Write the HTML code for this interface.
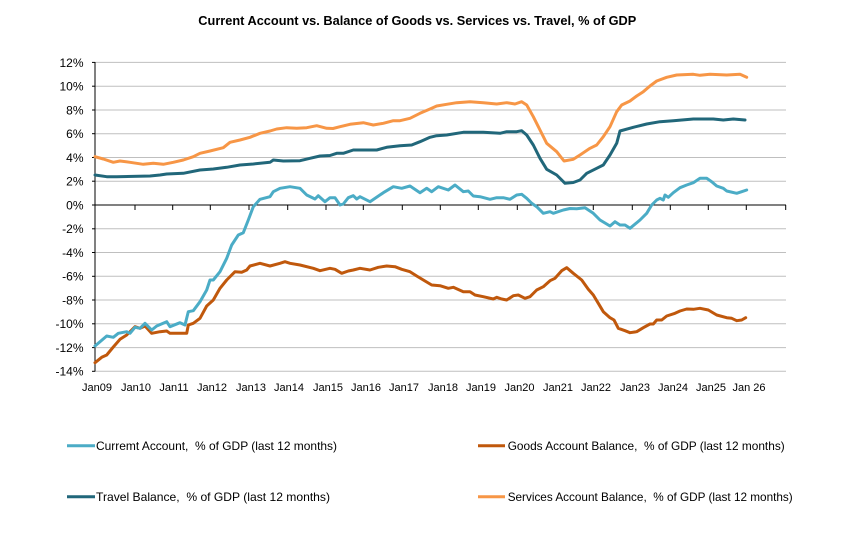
<!DOCTYPE html>
<html>
<head>
<meta charset="utf-8">
<style>
html,body{margin:0;padding:0;background:#fff;}
svg{display:block;}
text{font-family:"Liberation Sans",Arial,sans-serif;fill:#000;}
</style>
</head>
<body>
<svg width="846" height="544" viewBox="0 0 846 544" xmlns="http://www.w3.org/2000/svg">
<rect x="0" y="0" width="846" height="544" fill="#fff"/>
<text x="198.3" y="25" font-size="13" font-weight="bold" textLength="438" lengthAdjust="spacingAndGlyphs">Current Account vs. Balance of Goods vs. Services vs. Travel, % of GDP</text>

<!-- gridlines -->
<g stroke="#BFBFBF" stroke-width="1">
<line x1="95" y1="62.4" x2="786" y2="62.4"/>
<line x1="95" y1="86.2" x2="786" y2="86.2"/>
<line x1="95" y1="110" x2="786" y2="110"/>
<line x1="95" y1="133.7" x2="786" y2="133.7"/>
<line x1="95" y1="157.5" x2="786" y2="157.5"/>
<line x1="95" y1="181.2" x2="786" y2="181.2"/>
<line x1="95" y1="228.8" x2="786" y2="228.8"/>
<line x1="95" y1="252.5" x2="786" y2="252.5"/>
<line x1="95" y1="276.3" x2="786" y2="276.3"/>
<line x1="95" y1="300" x2="786" y2="300"/>
<line x1="95" y1="323.8" x2="786" y2="323.8"/>
<line x1="95" y1="347.6" x2="786" y2="347.6"/>
<line x1="95" y1="371.3" x2="786" y2="371.3"/>
</g>

<!-- axes -->
<g stroke="#000" stroke-width="1">
<line x1="95" y1="62" x2="95" y2="371.5"/>
<line x1="95" y1="205" x2="786" y2="205"/>
<line x1="92" y1="62.4" x2="95" y2="62.4"/>
<line x1="92" y1="86.2" x2="95" y2="86.2"/>
<line x1="92" y1="110" x2="95" y2="110"/>
<line x1="92" y1="133.7" x2="95" y2="133.7"/>
<line x1="92" y1="157.5" x2="95" y2="157.5"/>
<line x1="92" y1="181.2" x2="95" y2="181.2"/>
<line x1="92" y1="205" x2="95" y2="205"/>
<line x1="92" y1="228.8" x2="95" y2="228.8"/>
<line x1="92" y1="252.5" x2="95" y2="252.5"/>
<line x1="92" y1="276.3" x2="95" y2="276.3"/>
<line x1="92" y1="300" x2="95" y2="300"/>
<line x1="92" y1="323.8" x2="95" y2="323.8"/>
<line x1="92" y1="347.6" x2="95" y2="347.6"/>
<line x1="92" y1="371.3" x2="95" y2="371.3"/>
<line x1="135" y1="205" x2="135" y2="210"/>
<line x1="172.7" y1="205" x2="172.7" y2="210"/>
<line x1="210.3" y1="205" x2="210.3" y2="210"/>
<line x1="249" y1="205" x2="249" y2="210"/>
<line x1="287.7" y1="205" x2="287.7" y2="210"/>
<line x1="326" y1="205" x2="326" y2="210"/>
<line x1="363.3" y1="205" x2="363.3" y2="210"/>
<line x1="402.3" y1="205" x2="402.3" y2="210"/>
<line x1="440.3" y1="205" x2="440.3" y2="210"/>
<line x1="478.3" y1="205" x2="478.3" y2="210"/>
<line x1="517.3" y1="205" x2="517.3" y2="210"/>
<line x1="555.7" y1="205" x2="555.7" y2="210"/>
<line x1="593.3" y1="205" x2="593.3" y2="210"/>
<line x1="632.3" y1="205" x2="632.3" y2="210"/>
<line x1="670.3" y1="205" x2="670.3" y2="210"/>
<line x1="708.3" y1="205" x2="708.3" y2="210"/>
<line x1="746.3" y1="205" x2="746.3" y2="210"/>
<line x1="785.7" y1="205" x2="785.7" y2="210"/>
</g>

<!-- y labels -->
<g font-size="12" text-anchor="end">
<text x="83.5" y="66.8">12%</text>
<text x="83.5" y="90.6">10%</text>
<text x="83.5" y="114.4">8%</text>
<text x="83.5" y="138.1">6%</text>
<text x="83.5" y="161.9">4%</text>
<text x="83.5" y="185.6">2%</text>
<text x="83.5" y="209.4">0%</text>
<text x="83.5" y="233.2">-2%</text>
<text x="83.5" y="256.9">-4%</text>
<text x="83.5" y="280.7">-6%</text>
<text x="83.5" y="304.4">-8%</text>
<text x="83.5" y="328.2">-10%</text>
<text x="83.5" y="352">-12%</text>
<text x="83.5" y="375.7">-14%</text>
</g>

<!-- x labels -->
<g font-size="11" text-anchor="middle">
<text x="97" y="391">Jan09</text>
<text x="136" y="391">Jan10</text>
<text x="174" y="391">Jan11</text>
<text x="212" y="391">Jan12</text>
<text x="251" y="391">Jan13</text>
<text x="289" y="391">Jan14</text>
<text x="328" y="391">Jan15</text>
<text x="366" y="391">Jan16</text>
<text x="404" y="391">Jan17</text>
<text x="443" y="391">Jan18</text>
<text x="481" y="391">Jan19</text>
<text x="519.5" y="391">Jan20</text>
<text x="558" y="391">Jan21</text>
<text x="596" y="391">Jan22</text>
<text x="635" y="391">Jan23</text>
<text x="673" y="391">Jan24</text>
<text x="711" y="391">Jan25</text>
<text x="749" y="391">Jan 26</text>
</g>

<!-- series -->
<g fill="none" stroke-width="3" stroke-linejoin="round" stroke-linecap="round">
<!-- Services (orange) -->
<polyline stroke="#F79646" points="95,156.7 103.3,159 113.3,162.3 120,161 130,162.3 143.3,164.3 153.3,163.3 163.3,164.3 173.3,162.3 183.3,160 193.3,156.7 200,153.3 210,151 223.3,147.7 230,142.3 240,140 250,137.3 260,133.3 270,131 276.7,129 286.7,127.7 296.7,128.3 306.7,127.7 316.7,125.7 326.7,128.3 333,128.5 340,126.7 350,124.3 363.3,122.7 373.3,125 383.3,123.3 393.3,120.7 400,120.7 410,118.3 420,113.3 430,109 436.7,106 446.7,104.3 456.7,102.7 470,101.7 483.3,102.7 496.7,104 506.7,102.7 515,104 521.7,101.7 526.7,105 533.3,116.7 540,130 546.7,143.3 556.7,151.7 564,161 573.3,159.3 580,155 590,148.3 596.7,145 603.3,136.7 610,126.7 616.7,111.7 621.7,105 630,101 636.7,96 643.3,91.7 650,86 656.7,81 666.7,77.3 676.7,75 693.3,74.3 700,75.3 710,74.3 726.7,75 740,74.3 746.7,77.3"/>
<!-- Travel (dark teal) -->
<polyline stroke="#21677A" points="95,175 106.7,176.7 116.7,176.7 150,176 160,175 166.7,174 183.3,173.3 200,170 213.3,169 226.7,167.3 240,165 253.3,164 270,162.3 273.3,160 283.3,161 300,160.7 310,158.3 320,156 330,155.5 336.7,153.3 343.3,153.3 353.3,150 376.7,150 386.7,147.3 400,145.7 411.7,145 420,141.7 430,137.3 436.7,135.7 446.7,135 463.3,132.3 483.3,132.3 500,133.3 506.7,131.7 516.7,131.7 521.7,130.7 526.7,135 533.3,145 540,158.3 546.7,169.3 556.7,175 565,183.3 573.3,182.5 580,180 586.7,173.3 596.7,168.3 603.3,165 610,155 616.7,143.3 620,131 633.3,127.3 646.7,124 660,121.7 673.3,120.7 693.3,119 713.3,119 723.3,120 733.3,119 745,120"/>
<!-- Goods (brown) -->
<polyline stroke="#C0580C" points="95,362.7 101.7,357.3 106.7,355 113.3,347 120,339.3 126.7,335 135,326.7 140,328.3 145,326 151.7,333.3 160,331.7 166.7,331 170,333.3 186.7,333.3 188.3,325 193.3,323.3 200,318.3 206.7,306 213.3,300 220,288.3 226.7,280 235,271.7 241.7,272.3 246.7,270 250,266 260,263.3 270,266 280,263.3 285,261.7 290,263.3 300,265 313.3,268.3 320,270.7 330,268.3 335,269.3 341.7,273.3 348.3,271 353.3,270 360,268.3 370,270 378.3,267.3 386.7,266 395,266.7 401.7,269.3 410,271.7 416.7,276 425,281 431.7,285 440,285.7 448.3,288.3 453.3,287.3 463.3,291.7 470,291.7 475,295 483.3,296.7 493.3,299 496.7,297.3 501.7,299 506.7,300 513.3,295.7 518.3,295 525,298.3 530,296.7 536.7,290 543.3,286.7 550,280.7 555,278.3 561.7,270.7 566.7,267.7 573.3,273.3 581.7,280 588.3,289.3 593.3,295 598.3,303.3 603.3,311.7 610,317.7 614,320 618.3,328.3 625,330.7 630,332.7 636.7,331.7 643.3,327.7 650,324 653.3,324 656.7,320 661.7,320 666.7,316 675,313.3 680,311 686.7,309 693.3,309.3 700,308.3 708.3,310 716.7,315 726.7,317.7 731.7,318.3 736.7,320.7 741.7,320 745.7,317.7"/>
<!-- Current account (light blue) -->
<polyline stroke="#4BACC6" points="95,346 100,341.7 106.7,336 113.3,337.3 118.3,333.3 126.7,331.7 130,333.3 135,327.3 140,328.3 145,323.3 151.7,330 156.7,326 166.7,321.7 170,326.7 180,322.7 185,325 188.3,311.7 193.3,310.7 200,301.7 206.7,290 210,280 213.3,280 220,271.7 226.7,258.3 231.7,245 238.3,235 243.3,232.7 248.3,220 253.3,206.7 260,199.3 270,196.7 273.3,191.7 280,188.3 290,186.7 300,188.3 306.7,195 315,199 318.3,195.7 325,201.7 330,197.7 335,197.7 340,205 343.3,204 348.3,197.7 353.3,195.7 356.7,199 360,196.7 370,201.7 383.3,192.7 393.3,186.7 401.7,188.3 410,186 420,192.7 426.7,188.3 431.7,191.7 438.3,186.7 448.3,190 455,185 463.3,191.7 468.3,191 473.3,196 480,196.7 490,199.3 496.7,197.7 503.3,197.7 510,199.3 516.7,195 521.7,194.3 526.7,198.3 531.7,203.3 536.7,206.7 543.3,213.3 550,211.7 553.3,213.3 563.3,210 570,208.5 576.7,208.7 585,207.7 593.3,213.3 600,220 610,226 615,221.7 620,225 625,225 630,228.3 640,220 646.7,213.3 651.7,205 656.7,200 660,198.3 663.3,200 665,195 668.3,197.3 673.3,192.7 680,187.7 686.7,185 693.3,182.7 700,178.3 706.7,178.3 711.7,181.7 716.7,186 723.3,188.3 726.7,191 736.7,193.3 741.7,191.7 746.7,190"/>
</g>

<!-- legend -->
<g stroke-width="3">
<line x1="67" y1="445.7" x2="95" y2="445.7" stroke="#4BACC6"/>
<line x1="67" y1="496.7" x2="95" y2="496.7" stroke="#21677A"/>
<line x1="478" y1="445.7" x2="505" y2="445.7" stroke="#C0580C"/>
<line x1="478" y1="496.7" x2="505" y2="496.7" stroke="#F79646"/>
</g>
<g font-size="12">
<text x="96" y="450" textLength="241" lengthAdjust="spacingAndGlyphs" xml:space="preserve">Curremt Account,  % of GDP (last 12 months)</text>
<text x="96" y="501" textLength="234" lengthAdjust="spacingAndGlyphs" xml:space="preserve">Travel Balance,  % of GDP (last 12 months)</text>
<text x="507.7" y="450" textLength="277" lengthAdjust="spacingAndGlyphs" xml:space="preserve">Goods Account Balance,  % of GDP (last 12 months)</text>
<text x="507.7" y="501" textLength="285" lengthAdjust="spacingAndGlyphs" xml:space="preserve">Services Account Balance,  % of GDP (last 12 months)</text>
</g>
</svg>
</body>
</html>
